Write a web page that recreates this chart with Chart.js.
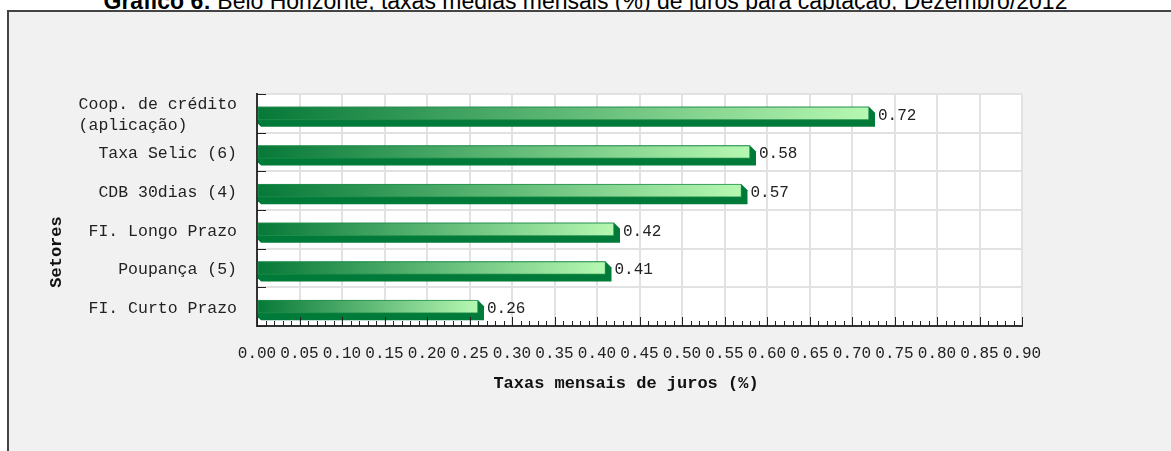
<!DOCTYPE html>
<html>
<head>
<meta charset="utf-8">
<script src="https://cdn.jsdelivr.net/npm/chart.js@4"></script>
<style>
  html, body { margin: 0; padding: 0; background: #ffffff; width: 1171px; height: 451px; overflow: hidden; }
  #title { position: absolute; left: 0; width: 1171px; top: -11px; text-align: center; font-family: "Liberation Sans", Arial, sans-serif; font-size: 23px; line-height: 24px; color: #000; white-space: nowrap; }
  #panel { position: absolute; left: 7px; top: 10px; width: 1300px; height: 600px; background: #f1f1f1; border-left: 2px solid #444; border-top: 2px solid #444; }
  #wrap { position: absolute; left: 0; top: 0; width: 1171px; height: 451px; }
</style>
</head>
<body>
<div id="title"><b>Gráfico 6:</b> Belo Horizonte, taxas médias mensais (%) de juros para captação, Dezembro/2012</div>
<div id="panel"></div>
<div id="wrap"><canvas id="c" width="1171" height="451"></canvas></div>
<script>
const categories = [
  ["Coop. de crédito", "(aplicação)     "],
  "Taxa Selic (6)",
  "CDB 30dias (4)",
  "FI. Longo Prazo",
  "Poupança (5)",
  "FI. Curto Prazo"
];
const taxas = [0.72, 0.58, 0.57, 0.42, 0.41, 0.26];
const valueLabels = ["0.72", "0.58", "0.57", "0.42", "0.41", "0.26"];
const xTickLabels = ["0.00","0.05","0.10","0.15","0.20","0.25","0.30","0.35","0.40","0.45","0.50","0.55","0.60","0.65","0.70","0.75","0.80","0.85","0.90"];
const yAxisTitle = "Setores";
const xAxisTitle = "Taxas mensais de juros (%)";

const MONO = '"Liberation Mono", "DejaVu Sans Mono", monospace';

const plotBg = {
  id: 'plotBg',
  beforeDraw(chart) {
    const { ctx, chartArea: a } = chart;
    ctx.save();
    ctx.fillStyle = '#ffffff';
    ctx.fillRect(a.left, a.top, a.right - a.left, a.bottom - a.top);
    ctx.restore();
  }
};

const bar3d = {
  id: 'bar3d',
  beforeDatasetsDraw(chart) {
    const { ctx } = chart;
    const meta = chart.getDatasetMeta(0);
    ctx.save();
    ctx.fillStyle = '#007a38';
    meta.data.forEach(el => {
      const p = el.getProps(['x', 'y', 'base', 'height'], true);
      const top = p.y - p.height / 2, bottom = p.y + p.height / 2;
      const dx = 6, dy = 7;
      ctx.beginPath();
      ctx.moveTo(p.base, top);
      ctx.lineTo(p.x, top);
      ctx.lineTo(p.x + dx, top + dx);
      ctx.lineTo(p.x + dx, bottom + dy);
      ctx.lineTo(p.base + 3, bottom + dy);
      ctx.lineTo(p.base, bottom + dy - 3);
      ctx.closePath();
      ctx.fill();
    });
    ctx.restore();
  },
  afterDatasetsDraw(chart) {
    const { ctx, chartArea: a, scales } = chart;
    const meta = chart.getDatasetMeta(0);
    ctx.save();
    // value labels
    ctx.font = '16px ' + MONO;
    ctx.fillStyle = '#222';
    ctx.textAlign = 'left';
    ctx.textBaseline = 'middle';
    meta.data.forEach((el, i) => {
      const p = el.getProps(['x', 'y'], true);
      ctx.fillText(valueLabels[i], p.x + 9, p.y + 2);
    });
    // inside ticks on x axis (minor every 0.01, major every 0.05)
    ctx.strokeStyle = '#222';
    ctx.lineWidth = 1;
    for (let k = 0; k <= 90; k++) {
      const x = Math.round(scales.x.getPixelForValue(k / 100)) + 0.5;
      const len = (k % 5 === 0) ? 9 : 5;
      ctx.beginPath();
      ctx.moveTo(x, a.bottom);
      ctx.lineTo(x, a.bottom - len);
      ctx.stroke();
    }
    // inside ticks on y axis at category boundaries
    const n = categories.length;
    for (let i = 0; i <= n; i++) {
      const y = Math.round(a.top + (a.bottom - a.top) * i / n) + 0.5;
      ctx.beginPath();
      ctx.moveTo(a.left, y);
      ctx.lineTo(a.left + 9, y);
      ctx.stroke();
    }
    // axis titles
    ctx.fillStyle = '#111';
    ctx.font = 'bold 17px ' + MONO;
    ctx.textAlign = 'center';
    ctx.textBaseline = 'middle';
    ctx.fillText(xAxisTitle, 626, 384);
    ctx.translate(57, 252);
    ctx.rotate(-Math.PI / 2);
    ctx.fillText(yAxisTitle, 0, 0);
    ctx.restore();
  }
};

new Chart(document.getElementById('c'), {
  type: 'bar',
  data: {
    labels: categories,
    datasets: [{
      data: taxas,
      barThickness: 13,
      borderWidth: 1,
      borderSkipped: false,
      borderColor: '#1f8e4a',
      backgroundColor(context) {
        const chart = context.chart;
        if (!chart.chartArea || !chart.scales.x) return '#2a9a55';
        const x0 = chart.scales.x.getPixelForValue(0);
        const x1 = chart.scales.x.getPixelForValue(context.raw);
        const g = chart.ctx.createLinearGradient(x0, 0, x1, 0);
        g.addColorStop(0, '#067838');
        g.addColorStop(1, '#b6f8b2');
        return g;
      }
    }]
  },
  options: {
    indexAxis: 'y',
    responsive: false,
    animation: false,
    layout: { padding: { left: 0, top: 94, right: 149, bottom: 0 } },
    plugins: { legend: { display: false }, tooltip: { enabled: false }, title: { display: false } },
    scales: {
      x: {
        type: 'linear',
        min: 0,
        max: 0.9,
        afterBuildTicks(scale) {
          scale.ticks = xTickLabels.map(v => ({ value: parseFloat(v) }));
        },
        afterFit(scale) { scale.height = 125; },
        grid: { color: '#e2e2e2', lineWidth: 2, drawTicks: false },
        border: { color: '#333', width: 2 },
        ticks: {
          autoSkip: false,
          maxRotation: 0,
          padding: 18,
          color: '#222',
          font: { family: MONO, size: 16 },
          callback(value, index) { return xTickLabels[index]; }
        }
      },
      y: {
        afterFit(scale) { scale.width = 257; },
        grid: { color: '#e2e2e2', lineWidth: 2, drawTicks: false, offset: true },
        border: { color: '#333', width: 2 },
        ticks: {
          autoSkip: false,
          padding: 20,
          labelOffset: 2,
          color: '#222',
          font: { family: MONO, size: 16.5, lineHeight: 1.25 }
        }
      }
    }
  },
  plugins: [plotBg, bar3d]
});
</script>
</body>
</html>
